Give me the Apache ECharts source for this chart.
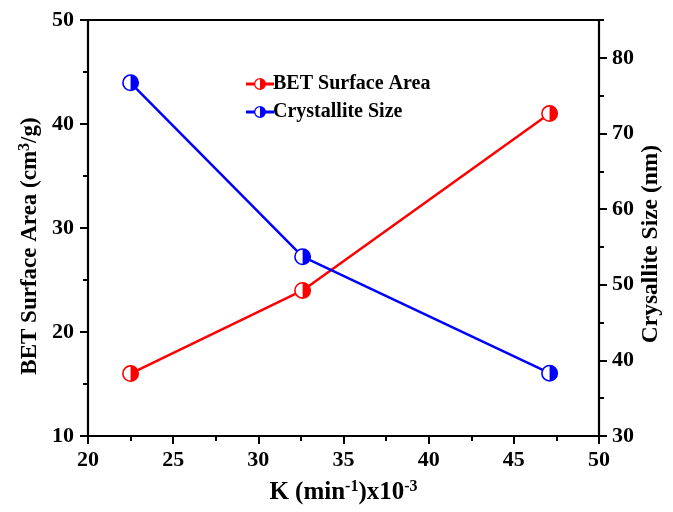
<!DOCTYPE html>
<html>
<head>
<meta charset="utf-8">
<script src="https://cdn.jsdelivr.net/npm/echarts@6/dist/echarts.min.js"></script>
<style>
  html, body { margin: 0; padding: 0; background: #fff; }
  #chart { width: 673px; height: 512px; }
</style>
</head>
<body>
<div id="chart"></div>
<script>
// Rate constant K (min^-1 x10^-3) for the three samples
const kValues = [22.5, 32.6, 47.1];
// BET surface area (cm3/g)
const betArea = [16, 24, 41];
// Crystallite size (nm)
const crystalSize = [76.7, 53.7, 38.3];

const xTicks = [20, 25, 30, 35, 40, 45, 50];
const leftTicks = [10, 20, 30, 40, 50];
const rightTicks = [30, 40, 50, 60, 70, 80];
const rightMinorTicks = [35, 45, 55, 65, 75, 85];

const FONT = "'Liberation Serif', 'Times New Roman', serif";
const RED = '#ff0000';
const BLUE = '#0000ff';

// half-filled circle: ring with right half solid
const markerPath = 'path://M8,0A8,8 0 1,1 8,16A8,8 0 1,1 8,0Z M8,1.5A6.5,6.5 0 0,0 8,14.5L8,1.5Z';
// legend glyph: line segment through a half-filled circle
const legendPath = 'path://M0,5.1L8.6,5.1L8.6,7.9L0,7.9Z M19.4,5.1L28,5.1L28,7.9L19.4,7.9Z ' +
  'M14,0.5A6,6 0 1,1 14,12.5A6,6 0 1,1 14,0.5Z M14,1.8A4.7,4.7 0 0,0 14,11.2L14,1.8Z';

const pairs = (xs, ys) => xs.map((x, i) => [x, ys[i]]);

const labelStyle = { fontFamily: FONT, fontWeight: 'bold', fontSize: 22, color: '#000' };
const axisLine = { show: true, lineStyle: { color: '#000', width: 2.2 } };
const tickLine = { color: '#000', width: 2 };
const nameRich = (size, supSize, lift) => ({
  b: { fontFamily: FONT, fontWeight: 'bold', fontSize: size, color: '#000' },
  s: { fontFamily: FONT, fontWeight: 'bold', fontSize: supSize, color: '#000', padding: [0, 0, lift, 0] }
});

const chart = echarts.init(document.getElementById('chart'));
chart.setOption({
  backgroundColor: '#fff',
  animation: false,
  grid: { left: 88, right: 74, top: 20, bottom: 76, outerBoundsMode: 'none', containLabel: false },
  legend: {
    orient: 'vertical',
    left: 241,
    top: 69,
    itemWidth: 28,
    itemHeight: 12,
    itemGap: 8,
    data: [
      { name: 'BET Surface Area', icon: legendPath },
      { name: 'Crystallite Size', icon: legendPath }
    ],
    textStyle: { fontFamily: FONT, fontWeight: 'bold', fontSize: 20, color: '#000', lineHeight: 20, padding: [0, 0, 0, -6] }
  },
  xAxis: [
    {
      type: 'value', min: 20, max: 50, interval: 5, position: 'bottom',
      axisLine: axisLine,
      axisTick: { show: true, length: 8, lineStyle: tickLine, customValues: xTicks },
      minorTick: { show: true, splitNumber: 2, length: 5, lineStyle: tickLine },
      axisLabel: Object.assign({ margin: 13, customValues: xTicks }, labelStyle),
      splitLine: { show: false },
      name: '{b|K (min}{s|-1}{b|)x10}{s|-3}',
      nameLocation: 'middle',
      nameGap: 43,
      nameMoveOverlap: false,
      nameTextStyle: { rich: nameRich(25, 16, 12) }
    },
    {
      type: 'value', min: 20, max: 50, position: 'top',
      axisLine: axisLine,
      axisTick: { show: false },
      axisLabel: { show: false },
      splitLine: { show: false }
    }
  ],
  yAxis: [
    {
      type: 'value', min: 10, max: 50, interval: 10, position: 'left',
      axisLine: axisLine,
      axisTick: { show: true, length: 8, lineStyle: tickLine, customValues: leftTicks },
      minorTick: { show: true, splitNumber: 2, length: 5, lineStyle: tickLine },
      axisLabel: Object.assign({ margin: 14, customValues: leftTicks }, labelStyle),
      splitLine: { show: false },
      name: '{b|BET Surface Area (cm}{s|3}{b|/g)}',
      nameLocation: 'middle',
      nameGap: 44,
      nameRotate: 90,
      nameMoveOverlap: false,
      nameTextStyle: { rich: nameRich(23, 16, 11), padding: [0, 36, 0, 0] }
    },
    {
      type: 'value', min: 30, max: 85, interval: 10, position: 'right',
      axisLine: axisLine,
      axisTick: { show: true, length: 8, lineStyle: tickLine, customValues: rightTicks },
      axisLabel: Object.assign({ margin: 13, customValues: rightTicks }, labelStyle),
      splitLine: { show: false },
      name: '{b|Crysallite Size (nm)}',
      nameLocation: 'middle',
      nameGap: 40,
      nameRotate: 90,
      nameMoveOverlap: false,
      nameTextStyle: { rich: nameRich(23.5, 16, 11), padding: [0, 32, 0, 0] }
    },
    {
      // minor ticks of the right-hand scale
      type: 'value', min: 30, max: 85, position: 'right',
      axisLine: { show: false },
      axisTick: { show: true, length: 5, lineStyle: tickLine, customValues: rightMinorTicks },
      axisLabel: { show: false },
      splitLine: { show: false }
    }
  ],
  series: [
    {
      name: 'BET Surface Area', type: 'line', xAxisIndex: 0, yAxisIndex: 0,
      data: pairs(kValues, betArea),
      lineStyle: { color: RED, width: 2.5 },
      itemStyle: { color: RED },
      symbol: 'none',
      z: 2
    },
    {
      name: 'Crystallite Size', type: 'line', xAxisIndex: 0, yAxisIndex: 1,
      data: pairs(kValues, crystalSize),
      lineStyle: { color: BLUE, width: 2.5 },
      itemStyle: { color: BLUE },
      symbol: 'none',
      z: 2
    },
    // white discs under the half-filled markers
    {
      type: 'scatter', xAxisIndex: 0, yAxisIndex: 0, data: pairs(kValues, betArea),
      symbol: 'circle', symbolSize: 16, itemStyle: { color: '#fff', opacity: 1 }, z: 3, silent: true
    },
    {
      type: 'scatter', xAxisIndex: 0, yAxisIndex: 1, data: pairs(kValues, crystalSize),
      symbol: 'circle', symbolSize: 16, itemStyle: { color: '#fff', opacity: 1 }, z: 3, silent: true
    },
    {
      type: 'scatter', xAxisIndex: 0, yAxisIndex: 0, data: pairs(kValues, betArea),
      symbol: markerPath, symbolSize: 17, itemStyle: { color: RED, opacity: 1 }, z: 4, silent: true
    },
    {
      type: 'scatter', xAxisIndex: 0, yAxisIndex: 1, data: pairs(kValues, crystalSize),
      symbol: markerPath, symbolSize: 17, itemStyle: { color: BLUE, opacity: 1 }, z: 4, silent: true
    }
  ]
});
</script>
</body>
</html>
